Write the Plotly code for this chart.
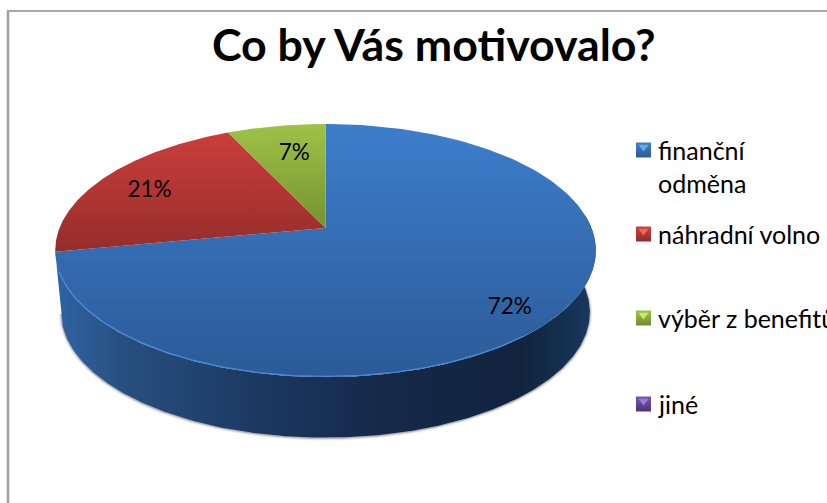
import numpy as np
import plotly.graph_objects as go

# --- data ---
title = "Co by Vás motivovalo?"
categories = ["finanční<br>odměna", "náhradní volno", "výběr z benefitů", "jiné"]
values = [72, 21, 7, 0]
label_fracs = [0.82, 0.79, 0.70]
label_nudge_x = [-1, 0, 5]
label_nudge_y = [10, 5, 1]
top_colors = [("#3d7ecc", "#2b5a97"), ("#cb3e3b", "#952d2a"), ("#9fc248", "#75932e")]
legend_colors = [("#3f7fc8", "#2a5a98"), ("#cf4340", "#8f2b28"),
                 ("#a0c24a", "#6f8c2c"), ("#7a56ad", "#4c3472")]
legend_light = ["#62a8ee", "#ee6460", "#c8ea66", "#a07cd6"]

# --- layout of the 3-D look ---
W, H = 827, 503
CX, APEX_Y, K, A, C = 325.5, 228.0, 266.0, 82.0, -0.178
DEPTH, SHRINK = 61.0, 0.978


def project(theta, f=1.0):
    """Perspective map: theta is clockwise from 12 o'clock, f a radial fraction."""
    u, v = f * np.sin(theta), -f * np.cos(theta)
    d = 1 + C * v
    return CX + K * u / d, (APEX_Y + A * v) / d


def bottom(theta):
    x, y = project(theta)
    return CX + (x - CX) * SHRINK, APEX_Y + (y - APEX_Y) * 0.99 + DEPTH + 1


total = sum(values)
edges = 2 * np.pi * np.cumsum([0] + values) / total
fig = go.Figure()

# front wall of the cylinder (only the front of the blue slice shows)
t = np.linspace(np.radians(84), edges[1], 240)
xt, yt = project(t)
xb, yb = bottom(t)
for w, op in [(5, 0.07), (3, 0.12), (1.5, 0.25)]:
    fig.add_trace(go.Scatter(x=xb, y=yb + 0.5, mode="lines", hoverinfo="skip",
                             line=dict(color="#404040", width=w), opacity=op))
fig.add_trace(go.Scatter(
    x=np.r_[xt, xb[::-1]], y=np.r_[yt, yb[::-1]], mode="lines", fill="toself",
    line=dict(width=0), hoverinfo="skip",
    fillgradient=dict(type="horizontal", start=58, stop=597, colorscale=[
        [0, "#2f62a3"], [0.12, "#27507f"], [0.35, "#1c3a64"], [0.6, "#15294a"],
        [0.85, "#11233d"], [0.94, "#14304f"], [1, "#1a3a60"]])))

# top-face slices, from the values
for i in range(3):
    t = np.linspace(edges[i], edges[i + 1], 200)
    x, y = project(t)
    px, py = np.r_[CX, x, CX], np.r_[APEX_Y, y, APEX_Y]
    c0, c1 = top_colors[i]
    fig.add_trace(go.Scatter(
        x=px, y=py, mode="lines", fill="toself", line=dict(width=0), hoverinfo="skip",
        fillgradient=dict(type="vertical", start=float(py.min()), stop=float(py.max()),
                          colorscale=[[0, c0], [1, c1]])))

# rim highlight on the front of the top face
t = np.linspace(np.radians(140), np.radians(250), 160)
x, y = project(t)
fig.add_trace(go.Scatter(x=x, y=y - 0.7, mode="lines", hoverinfo="skip",
                         line=dict(color="#4a8ad6", width=1.2)))

# data labels
mids = (edges[:3] + edges[1:4]) / 2
lx, ly = zip(*[project(m, f) for m, f in zip(mids, label_fracs)])
fig.add_trace(go.Scatter(x=np.array(lx) + label_nudge_x, y=np.array(ly) + label_nudge_y,
                         mode="text", hoverinfo="skip",
                         text=[f"{round(100 * v / total)}%" for v in values[:3]],
                         textposition="middle center",
                         textfont=dict(family="Lato", size=22.5, color="#000000")))

# legend
leg_y = [150, 234, 318, 404]
text_y = [166, 234, 318, 404]
fig.add_trace(go.Scatter(
    x=[643.5] * 4, y=leg_y, mode="markers", hoverinfo="skip",
    marker=dict(symbol="square", size=15, color=[c[0] for c in legend_colors],
                gradient=dict(type="vertical", color=[c[1] for c in legend_colors]),
                line=dict(width=0))))
fig.add_trace(go.Scatter(
    x=[643.5] * 4, y=[v - 3 for v in leg_y], mode="markers", hoverinfo="skip",
    marker=dict(symbol="triangle-down", size=9, color=legend_light, line=dict(width=0))))
annotations = [dict(x=656, y=ty, text=c, showarrow=False, xanchor="left", yanchor="middle",
                    align="left", xref="x", yref="y",
                    font=dict(family="Lato", size=25, color="#000000"))
               for c, ty in zip(categories, text_y)]
annotations.append(dict(x=434, y=44, text=f"<b>{title}</b>", showarrow=False, xref="x", yref="y",
                        font=dict(family="Lato", size=44.7, color="#000000")))

fig.update_layout(
    width=W, height=H, margin=dict(l=0, r=0, t=0, b=0), showlegend=False,
    paper_bgcolor="#ffffff", plot_bgcolor="#ffffff",
    xaxis=dict(range=[0, W], visible=False, fixedrange=True),
    yaxis=dict(range=[H, 0], visible=False, fixedrange=True),
    annotations=annotations,
    shapes=[
        dict(type="line", x0=8, x1=8, y0=10, y1=H, line=dict(color="#a0a0a0", width=2.5)),
        dict(type="line", x0=8, x1=W, y0=11, y1=11, line=dict(color="#a8a8a8", width=2)),
    ],
)
fig.write_html("out.html", config=dict(displayModeBar=False),
               post_script="document.body.style.margin='0';document.body.style.overflow='hidden';")
